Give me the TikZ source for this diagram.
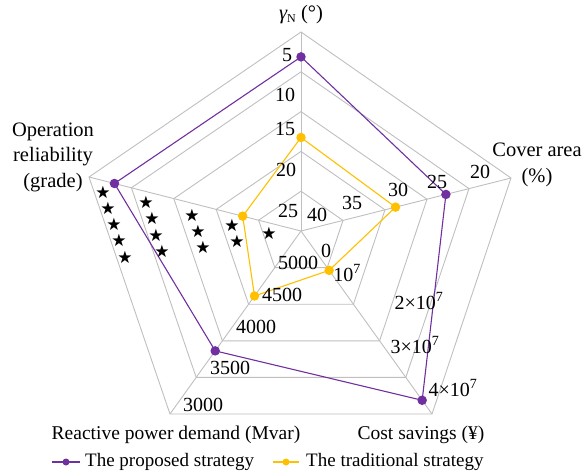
\documentclass[tikz,border=0pt]{standalone}
\usepackage{fontspec}
\setmainfont{Liberation Serif}
\newfontfamily\symfont{DejaVu Sans}
\usetikzlibrary{calc}
\definecolor{prop}{HTML}{7030A0}
\definecolor{trad}{HTML}{FFC000}
\definecolor{gridc}{HTML}{BFBFBF}
\begin{document}
\begin{tikzpicture}[x=1pt,y=-1pt,
  gridline/.style={draw=gridc, line width=0.9pt},
  propline/.style={draw=prop, line width=1.1pt},
  tradline/.style={draw=trad, line width=1.1pt},
  propdot/.style={circle, fill=prop, inner sep=0pt, minimum size=9.5pt},
  traddot/.style={circle, fill=trad, inner sep=0pt, minimum size=9.5pt},
  lbl/.style={font=\fontsize{20}{22}\selectfont, inner sep=0pt},
  ttl/.style={font=\fontsize{20.5}{25.5}\selectfont, inner sep=0pt, align=center},
  btl/.style={font=\fontsize{19.5}{22}\selectfont, inner sep=0pt},
  leg/.style={font=\fontsize{19}{21}\selectfont, inner sep=0pt, anchor=west},
  staricon/.style={font=\symfont\fontsize{17}{17}\selectfont, inner sep=0pt}
]
\useasboundingbox (0,0) rectangle (585,474);
% axes
\coordinate (C) at (301,231);
\coordinate (A1) at (301,32);
\coordinate (A2) at (511,178);
\coordinate (A3) at (432,414);
\coordinate (A4) at (170,414);
\coordinate (A5) at (89,177);
\foreach \f in {0.2,0.4,0.6,0.8,1.0} {
  \draw[gridline] ($(C)!\f!(A1)$) -- ($(C)!\f!(A2)$) -- ($(C)!\f!(A3)$)
     -- ($(C)!\f!(A4)$) -- ($(C)!\f!(A5)$) -- cycle;
}
\foreach \i in {1,...,5} \draw[gridline] (C) -- (A\i);
% data
\foreach \i/\f in {1/0.875,2/0.69,3/0.925,4/0.655,5/0.88}
  \coordinate (p\i) at ($(C)!\f!(A\i)$);
\foreach \i/\f in {1/0.47,2/0.45,3/0.215,4/0.355,5/0.275}
  \coordinate (o\i) at ($(C)!\f!(A\i)$);
\draw[propline] (p1) -- (p2) -- (p3) -- (p4) -- (p5) -- cycle;
\draw[tradline] (o1) -- (o2) -- (o3) -- (o4) -- (o5) -- cycle;
\foreach \i in {1,...,5} {
  \node[propdot] (pd\i) at (p\i) {};
  \node[traddot] (od\i) at (o\i) {};
}
% top axis labels
\node[lbl] (t5) at (287,55) {5};
\node[lbl] (t10) at (285,95) {10};
\node[lbl] (t15) at (285,129) {15};
\node[lbl] (t20) at (286,170) {20};
\node[lbl] (t25) at (288,211) {25};
% right axis labels
\node[lbl] (r20) at (480,172) {20};
\node[lbl] (r25) at (437,182) {25};
\node[lbl] (r30) at (398,190) {30};
\node[lbl] (r35) at (352,203) {35};
\node[lbl] (r40) at (317,215) {40};
% cost axis labels
\node[lbl] (c0) at (326,251) {0};
\node[lbl] (c1) at (347,273) {10\textsuperscript{7}};
\node[lbl] (c2) at (419,301) {2×10\textsuperscript{7}};
\node[lbl] (c3) at (415,345) {3×10\textsuperscript{7}};
\node[lbl] (c4) at (453,388) {4×10\textsuperscript{7}};
% reactive power labels
\node[lbl] (q5000) at (298,263) {5000};
\node[lbl] (q4500) at (282,295) {4500};
\node[lbl] (q4000) at (256,327) {4000};
\node[lbl] (q3500) at (230,368) {3500};
\node[lbl] (q3000) at (203,405) {3000};
% stars
\foreach \x/\y [count=\k] in {103/192,108/208,114/224,119/240,125/257,
   146/202,152/218,156/235,162/251,
   192/215,198/231,203/247,
   232/225,237/241,
   269/233}
  \node[staricon] (s\k) at (\x,\y) {★};
% axis titles
\node[ttl] (tg) at (301,15) {{\itshape γ}\raisebox{-0.3ex}{\fontsize{12}{12}\selectfont N} (°)};
\node[ttl] (tc) at (537,165) {Cover area\\(\%)};
\node[ttl] (to) at (53,157) {Operation\\reliability\\(grade)};
\node[btl] (tq) at (176,435) {Reactive power demand (Mvar)};
\node[btl] (ts) at (421,435) {Cost savings (¥)};
% legend
\coordinate (l1a) at (52,462);
\coordinate (l1b) at (80,462);
\coordinate (l2a) at (273,462);
\coordinate (l2b) at (299,462);
\draw[propline] (l1a) -- (l1b);
\draw[tradline] (l2a) -- (l2b);
\node[propdot, minimum size=7pt] (ld1) at ($(l1a)!0.5!(l1b)$) {};
\node[traddot, minimum size=7pt] (ld2) at ($(l2a)!0.5!(l2b)$) {};
\node[leg] (lt1) at (85,462) {The proposed strategy};
\node[leg] (lt2) at (306,462) {The traditional strategy};
\end{tikzpicture}
\end{document}
